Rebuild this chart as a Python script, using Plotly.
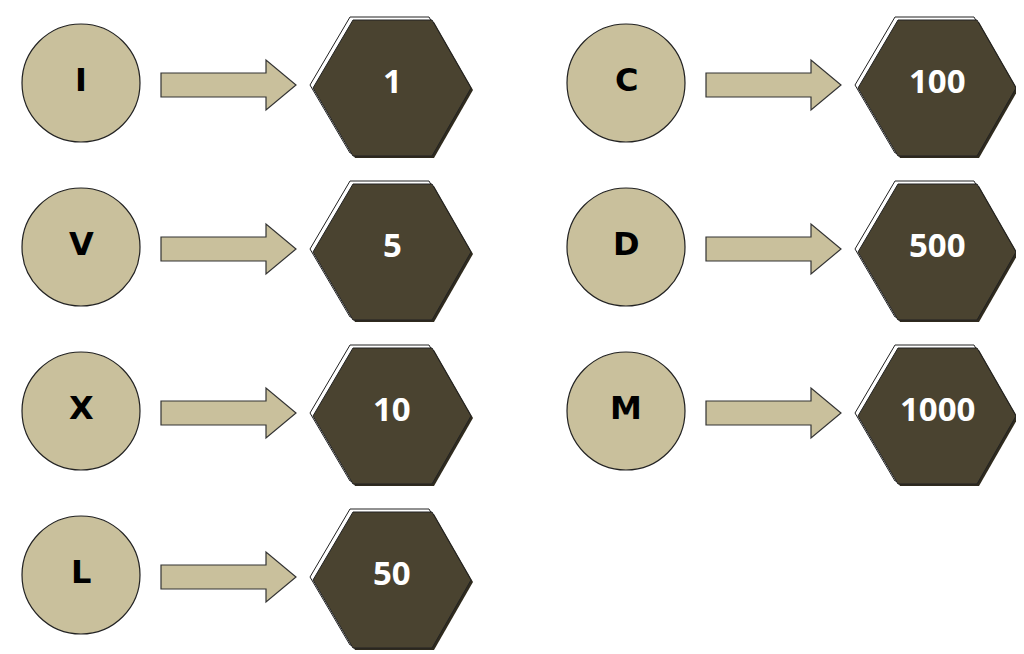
import plotly.graph_objects as go

numerals = ["I", "V", "X", "L", "C", "D", "M"]
values = ["1", "5", "10", "50", "100", "500", "1000"]
cols = [0, 0, 0, 0, 1, 1, 1]
rows = [0, 1, 2, 3, 0, 1, 2]

W, H = 1024, 654
fig = go.Figure()
shapes = []
ann = []
CIRC = "#c9c09c"
HEX = "#4a4330"

def hexpath(cx, cy, dx=0, dy=0):
    pts = [(-79, 0), (-39, -68), (40, -68), (79, 0), (40, 68), (-39, 68)]
    return "M " + " L ".join(f"{cx+x+dx},{cy+y+dy}" for x, y in pts) + " Z"

for n, v, c, r in zip(numerals, values, cols, rows):
    ox = c * 545
    cy = 75 + r * 164
    ccx = 73 + ox
    shapes.append(dict(type="circle", x0=ccx-59, x1=ccx+59, y0=cy-59, y1=cy+59,
                       fillcolor=CIRC, line=dict(color="#222", width=1.2), layer="above"))
    ax0 = 153 + ox
    ay = cy + 2
    p = (f"M {ax0},{ay-12} L {ax0+105},{ay-12} L {ax0+105},{ay-25} L {ax0+135},{ay} "
         f"L {ax0+105},{ay+25} L {ax0+105},{ay+12} L {ax0},{ay+12} Z")
    shapes.append(dict(type="path", path=p, fillcolor=CIRC, line=dict(color="#333", width=1.2)))
    hx, hy = 384 + ox, cy + 5
    shapes.append(dict(type="path", path=hexpath(hx, hy, 2, 2), fillcolor="#302b1e", line=dict(width=0)))
    shapes.append(dict(type="path", path=hexpath(hx, hy, -3, -3), fillcolor="white", line=dict(color="#222", width=1)))
    shapes.append(dict(type="path", path=hexpath(hx, hy), fillcolor=HEX, line=dict(color="#222", width=1)))
    ann.append(dict(x=ccx, y=cy-3, text=f"<b>{n}</b>", showarrow=False,
                    font=dict(size=32, color="black", family="DejaVu Sans")))
    ann.append(dict(x=hx, y=hy-8, text=f"<b>{v}</b>", showarrow=False,
                    font=dict(size=33, color="white", family="Open Sans")))

fig.update_layout(width=W, height=H, margin=dict(l=0, r=0, t=0, b=0),
                  paper_bgcolor="white", plot_bgcolor="white",
                  xaxis=dict(range=[0, W], visible=False),
                  yaxis=dict(range=[H, 0], visible=False, scaleanchor="x"),
                  shapes=shapes, annotations=ann, showlegend=False)
fig.write_html("out.html")
